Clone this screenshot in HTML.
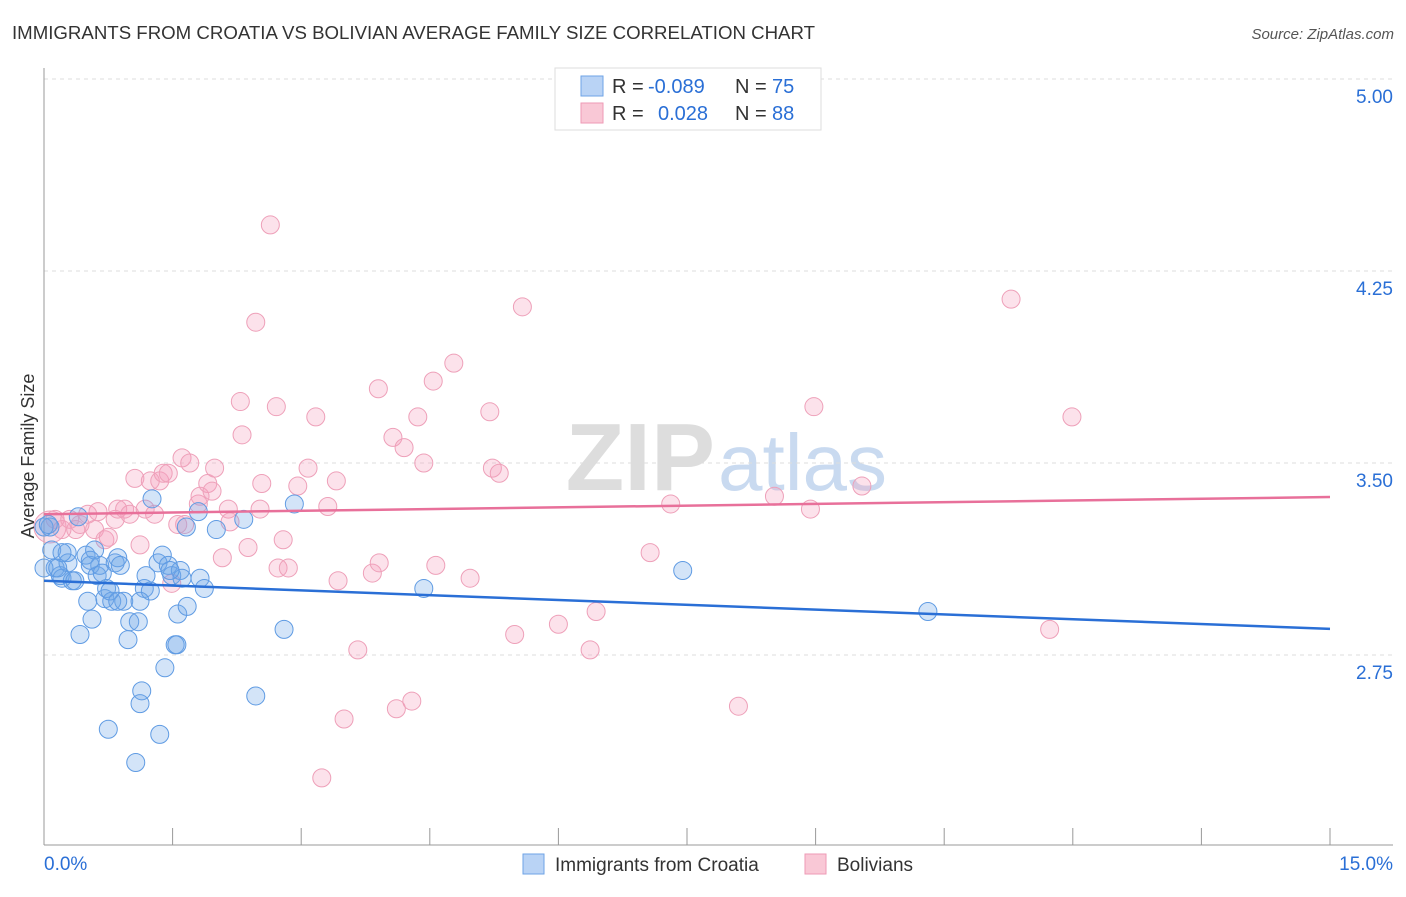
<!DOCTYPE html>
<html><head><meta charset="utf-8"><style>
body{margin:0;background:#fff;font-family:"Liberation Sans",sans-serif}
svg text{font-family:"Liberation Sans",sans-serif}
</style></head><body>
<svg id="chart" width="1406" height="892" viewBox="0 0 1406 892" xmlns="http://www.w3.org/2000/svg">
<text x="12" y="39" font-size="18" fill="#333" textLength="803" lengthAdjust="spacingAndGlyphs">IMMIGRANTS FROM CROATIA VS BOLIVIAN AVERAGE FAMILY SIZE CORRELATION CHART</text>
<text x="1394" y="39" font-size="15" fill="#555" font-style="italic" text-anchor="end">Source: ZipAtlas.com</text>
<text x="715" y="490" font-size="96" text-anchor="end" fill="#ddd" font-family="Liberation Serif" font-weight="bold">ZIP</text>
<text x="718" y="490" font-size="80" fill="#c9daf0">atlas</text>
<g id="grid"></g><g id="axes"></g><g id="pts"></g><g id="trends"></g>
<text transform="translate(34,456) rotate(-90)" font-size="18" fill="#333" text-anchor="middle">Average Family Size</text>
<g font-size="20">
<rect x="555" y="68" width="266" height="62" fill="#fff" stroke="#ddd"/>
<rect x="581" y="76" width="22" height="20" fill="#b9d3f5" stroke="#6ea3e6"/>
<rect x="581" y="103" width="22" height="20" fill="#f9c8d6" stroke="#ee9ab5"/>
<text x="612" y="93" fill="#333">R =</text>
<text x="648" y="93" fill="#2a6fd6">-0.089</text>
<text x="735" y="93" fill="#333">N =</text>
<text x="772" y="93" fill="#2a6fd6">75</text>
<text x="612" y="120" fill="#333">R =</text>
<text x="658" y="120" fill="#2a6fd6">0.028</text>
<text x="735" y="120" fill="#333">N =</text>
<text x="772" y="120" fill="#2a6fd6">88</text>
</g>
<g>
<rect x="523" y="854" width="21" height="20" fill="#b9d3f5" stroke="#6ea3e6"/>
<text x="555" y="871" font-size="19" fill="#333">Immigrants from Croatia</text>
<rect x="805" y="854" width="21" height="20" fill="#f9c8d6" stroke="#ee9ab5"/>
<text x="837" y="871" font-size="19" fill="#333">Bolivians</text>
</g>
</svg>
<script>
const yTicks=[5.00,4.25,3.50,2.75];
const yTickLabels=["5.00","4.25","3.50","2.75"];
const xTickCount=10;
const xLabels=["0.0%","15.0%"];
const blueX=[0.07,0.09,0.13,0.19,0.21,0.27,0.28,0.33,0.36,0.40,0.42,0.49,0.51,0.54,0.56,0.59,0.62,0.65,0.68,0.71,0.73,0.75,0.79,0.83,0.86,0.89,0.93,0.98,1.00,1.07,1.10,1.12,1.14,1.17,1.19,1.24,1.26,1.33,1.35,1.38,1.41,1.45,1.49,1.53,1.55,1.56,1.59,1.61,1.66,1.67,1.80,1.82,1.87,2.01,2.33,2.47,2.80,2.92,4.43,7.45,10.31,0.0,0.05,0.21,0.77,0.86,1.12,0.0,0.16,0.54,1.47];
const blueY=[3.25,3.16,3.09,3.06,3.05,3.15,3.11,3.04,3.04,3.29,2.83,3.14,2.96,3.10,2.89,3.16,3.06,3.10,3.07,2.97,3.01,2.46,2.96,3.11,3.13,3.10,2.96,2.81,2.88,2.33,2.88,2.56,2.61,3.01,3.06,3.00,3.36,3.11,2.44,3.14,2.70,3.10,3.06,2.79,2.79,2.91,3.08,3.05,3.25,2.94,3.31,3.05,3.01,3.24,3.28,2.59,2.85,3.34,3.01,3.08,2.92,3.25,3.26,3.15,3.00,2.96,2.96,3.09,3.09,3.12,3.08];
const pinkX=[0.07,0.13,0.21,0.30,0.37,0.42,0.51,0.59,0.63,0.71,0.75,0.83,0.86,0.94,1.00,1.06,1.12,1.18,1.24,1.29,1.35,1.39,1.45,1.49,1.56,1.61,1.64,1.70,1.80,1.82,1.91,1.96,1.99,2.08,2.15,2.17,2.29,2.31,2.38,2.47,2.54,2.52,2.64,2.71,2.73,2.79,2.85,2.96,3.08,3.17,3.24,3.31,3.41,3.43,3.50,3.66,3.83,3.90,3.91,4.07,4.11,4.20,4.29,4.36,4.43,4.54,4.57,4.78,4.97,5.20,5.23,5.31,5.49,5.58,6.00,6.37,6.44,7.07,7.31,8.10,8.52,8.94,8.98,9.54,11.28,11.73,11.99];
const pinkY=[3.25,3.28,3.24,3.28,3.24,3.26,3.30,3.24,3.31,3.20,3.21,3.28,3.32,3.32,3.30,3.44,3.18,3.32,3.43,3.30,3.43,3.46,3.46,3.03,3.26,3.52,3.26,3.50,3.34,3.37,3.42,3.39,3.48,3.13,3.32,3.27,3.74,3.61,3.17,4.05,3.42,3.32,4.43,3.72,3.09,3.20,3.09,3.41,3.48,3.68,2.27,3.33,3.43,3.04,2.50,2.77,3.07,3.79,3.11,3.60,2.54,3.56,2.57,3.68,3.50,3.82,3.10,3.89,3.05,3.70,3.48,3.46,2.83,4.11,2.87,2.77,2.92,3.15,3.34,2.55,3.37,3.32,3.72,3.41,4.14,2.85,3.68];
const blueTrend=[3.04,2.852];
const pinkTrend=[3.30,3.367];
const NS="http://www.w3.org/2000/svg";
const X0=44,X1=1330,XMAX=15,YTOP=79,YUNIT=256;
function sx(v){return X0+(v/XMAX)*(X1-X0);}
function sy(v){return YTOP+(5-v)*YUNIT;}
function mk(t,a,p){const e=document.createElementNS(NS,t);for(const k in a)e.setAttribute(k,a[k]);p.appendChild(e);return e;}
const grid=document.getElementById('grid'),axes=document.getElementById('axes'),pts=document.getElementById('pts'),tr=document.getElementById('trends');
yTicks.forEach((v,i)=>{
 const l=mk('line',{x1:44,x2:1393,y1:sy(v),y2:sy(v),stroke:'#ddd','stroke-dasharray':'4,4'},grid);
 
 
 const t=mk('text',{x:1393,y:sy(v)+24,'font-size':19,fill:'#2a6fd6','text-anchor':'end'},grid);
 t.textContent=yTickLabels[i];
 
 
});
const ya=mk('line',{x1:44,x2:44,y1:68,y2:845,stroke:'#999'},axes);


const xa=mk('line',{x1:44,x2:1393,y1:845,y2:845,stroke:'#999'},axes);


for(let i=1;i<=xTickCount;i++){const x=sx(i*XMAX/xTickCount);
 const t=mk('line',{x1:x,x2:x,y1:828,y2:845,stroke:'#999'},axes);
 
 }
const xl0=mk('text',{x:44,y:870,'font-size':19,fill:'#2a6fd6'},axes);xl0.textContent=xLabels[0];


const xl1=mk('text',{x:1393,y:870,'font-size':19,fill:'#2a6fd6','text-anchor':'end'},axes);xl1.textContent=xLabels[1];


pinkX.forEach((v,i)=>{const c=mk('circle',{cx:sx(v),cy:sy(pinkY[i]),r:i===0?16:9,fill:'rgba(244,160,188,0.3)',stroke:'#eea0b9','stroke-width':1},pts);
 
 });
blueX.forEach((v,i)=>{const c=mk('circle',{cx:sx(v),cy:sy(blueY[i]),r:9,fill:'rgba(110,165,232,0.3)',stroke:'#5f9be3','stroke-width':1},pts);
 
 });
const bt=mk('line',{x1:sx(0),x2:sx(XMAX),y1:sy(blueTrend[0]),y2:sy(blueTrend[1]),stroke:'#2a6fd6','stroke-width':2.5},tr);


const pt=mk('line',{x1:sx(0),x2:sx(XMAX),y1:sy(pinkTrend[0]),y2:sy(pinkTrend[1]),stroke:'#e8709a','stroke-width':2.5},tr);


</script>
</body></html>
